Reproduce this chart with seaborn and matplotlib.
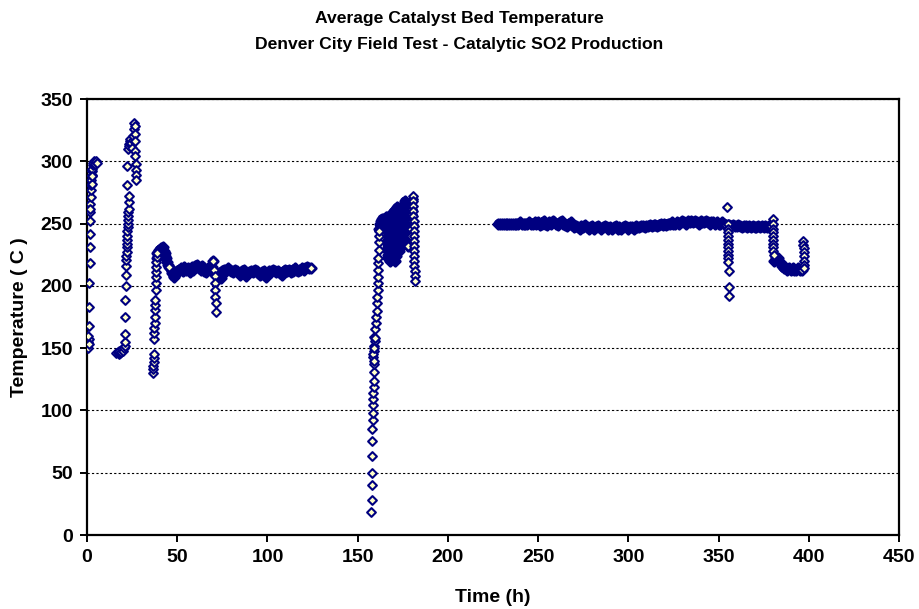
import numpy as np
import pandas as pd
import matplotlib
matplotlib.use("Agg")
import matplotlib.pyplot as plt
import seaborn as sns

# ---- Logged catalyst bed temperatures (time in h, temperature in C) ----
# start-up ramp
startup_t = [0.2, 0.5, 0.8, 1.0, 1.2, 0.6, 1.0, 1.2, 1.3, 1.4, 1.5, 1.6, 1.7, 1.8, 1.9,
             2.0, 2.1, 2.2, 2.4, 2.6, 2.8, 3.0, 3.2, 3.5, 4.0, 4.5, 5.0, 5.5, 2.5, 3.0, 1.8]
startup_T = [152, 150, 155, 157, 153, 160, 168, 183, 202, 218, 231, 242, 252, 259, 266,
             271, 277, 281, 285, 289, 292, 294, 297, 299, 300, 298, 300, 299, 282, 288, 262]

# idle period and second heat-up
idle_t = [16.0, 17.0, 17.5, 18.0, 18.5, 19.0, 19.5, 20.0, 20.5, 21.0]
idle_T = [146, 147, 145, 148, 146, 147, 149, 148, 150, 152]

heat2_t = [21.0, 21.1, 21.2, 21.3, 21.4, 21.5, 21.6, 21.7, 21.8, 21.9, 22.0, 22.1,
           22.2, 22.3, 22.4, 22.5, 22.6, 22.7, 22.8, 22.9, 23.0, 23.1, 23.2]
heat2_T = [155, 161, 175, 189, 200, 209, 216, 221, 224, 227, 231, 234,
           237, 240, 244, 247, 250, 253, 256, 259, 262, 267, 272]

peak_t = [22.0, 22.3, 22.6, 23.0, 23.3, 23.6, 24.0, 24.3, 24.6, 25.0, 25.3, 25.6,
          26.0, 26.2, 26.4, 26.5, 26.6, 26.7, 26.8, 26.9, 27.0, 27.1, 27.2]
peak_T = [281, 296, 310, 314, 312, 316, 318, 313, 315, 311, 317, 320,
          326, 331, 328, 322, 316, 308, 304, 298, 293, 289, 285]

# third heat-up
heat3_t = [36.6, 36.7, 36.8, 36.9, 37.0, 37.1, 37.2, 37.3, 37.4, 37.5, 37.6,
           37.7, 37.8, 37.9, 38.0, 38.1, 38.2, 38.3, 38.4, 38.5, 38.6, 38.7]
heat3_T = [130, 133, 136, 139, 142, 145, 157, 162, 166, 170, 175,
           181, 185, 189, 197, 202, 207, 211, 215, 219, 223, 226]

settle_t = [38.8, 39.0, 39.5, 40.0, 40.5, 41.0, 41.5, 42.0, 42.5, 43.0, 43.5, 44.0, 44.5, 45.0, 45.5]
settle_T = [226, 222, 227, 229, 228, 230, 229, 231, 228, 226, 224, 222, 219, 217, 215]

# first steady run (hourly readings)
run1a_start = 46
run1a_T = [214, 210, 207, 209, 212, 213, 214, 212, 215, 213, 214, 211, 215, 213, 216,
           217, 214, 213, 216, 212, 211, 214, 213, 215, 220]
upset1_t = [70.6, 70.8, 71.0, 71.1, 71.2, 71.3, 71.4]
upset1_T = [213, 208, 202, 197, 191, 186, 179]
run1b_start = 72
run1b_T = [209, 210, 206, 212, 213, 212, 214, 213, 212, 211,
           213, 212, 210, 209, 212, 213, 208, 210, 211, 212,
           211, 213, 212, 210, 209, 211, 212, 207, 210, 212,
           211, 213, 212, 211, 212, 210, 209, 212, 213, 212,
           213, 211, 212, 214, 213, 212, 213, 214, 213, 214,
           215, 214, 214]

# restart from cold
cold_t = [157.6, 157.8, 157.9, 158.0, 158.0, 158.1, 158.2, 158.3, 158.4, 158.5, 158.6,
          158.7, 158.8, 158.9, 159.0, 159.0, 158.6, 158.8, 159.2, 159.4, 159.2, 158.5,
          159.0, 159.5, 158.8, 159.6, 160.0, 160.3, 160.5, 160.7, 160.8, 161.0, 161.1,
          161.2, 161.3, 161.4, 161.5, 161.6, 161.7, 161.8, 162.0]
cold_T = [18.7, 28, 40, 49.5, 63.5, 75.7, 84.8, 92, 98, 104, 109,
          114, 119, 124, 131, 137, 143, 148, 152, 156, 159, 145,
          150, 158, 140, 165, 170, 175, 180, 186, 191, 197, 202,
          207, 213, 218, 222, 229, 235, 240, 244]

# unstable period after restart
swing_t = [162.0, 162.5, 163.0, 163.5, 164.0, 164.5, 165.0, 165.5, 166.0,
           166.5, 166.55, 166.6, 166.65, 166.7, 166.75, 166.8, 166.85, 166.9, 166.95, 167.0, 167.05,
           168.0, 168.1, 168.2, 168.3, 168.4, 168.5, 168.6, 168.7, 168.8, 168.9, 169.0,
           170.0, 170.05, 170.1, 170.15, 170.2, 170.25, 170.3, 170.35, 170.4, 170.45, 170.5,
           171.0, 171.1, 171.2, 171.3, 171.4, 171.5, 171.6, 171.7,
           172.5, 172.6, 172.7, 172.8, 172.9, 173.0, 173.1,
           174.0, 174.3, 174.6, 174.9, 175.2, 175.5, 175.8, 176.0,
           177.0, 177.2, 177.4, 177.6, 177.8, 178.0]
swing_T = [246, 250, 252, 254, 251, 249, 253, 255, 252,
           255, 252, 249, 246, 243, 240, 237, 234, 231, 228, 225, 222,
           220, 224, 228, 232, 236, 240, 244, 248, 252, 256, 258,
           260, 256, 252, 248, 244, 240, 236, 232, 228, 224, 220,
           224, 230, 236, 242, 248, 254, 260, 263,
           258, 252, 246, 240, 235, 230, 228,
           232, 238, 244, 250, 256, 262, 266, 268,
           262, 255, 248, 240, 235, 232]
swing_end_t = [179.5, 179.7, 179.9, 180.0, 180.1, 180.2, 180.4, 180.5,
               180.6, 180.7, 180.8, 180.9, 181.0, 181.05, 181.1, 181.15, 181.2,
               181.25, 181.3, 181.35, 181.4, 181.45, 181.5, 181.55, 181.6]
swing_end_T = [240, 246, 252, 258, 262, 267, 270, 272,
               268, 264, 260, 256, 252, 248, 244, 240, 236,
               232, 228, 224, 220, 216, 212, 208, 204]

# second steady run (hourly readings)
run2_start = 228
run2_T = [250, 250, 250, 250, 250, 250, 250, 250, 250, 250, 250, 250, 251, 250, 250, 250, 250, 251, 250, 250,
          251, 250, 251, 249, 250, 252, 250, 249, 251, 250, 252, 251, 250, 249, 251, 252, 250, 249, 248, 250,
          251, 249, 247, 248, 247, 246, 248, 247, 249, 247, 246, 247, 248, 246, 247, 248, 247, 246, 247, 248,
          247, 246, 247, 246, 247, 248, 246, 247, 246, 247, 248, 247, 246, 247, 247, 246, 248, 247, 247, 248,
          248, 247, 248, 248, 249, 248, 249, 249, 248, 249, 250, 249, 250, 249, 250, 250, 251, 250, 250, 251,
          250, 251, 252, 251, 250, 252, 251, 252, 251, 252, 251, 250, 252, 251, 251, 252, 251, 250, 251, 251,
          250, 251, 250, 250, 251, 250, 249]
upset2_t = [354.6, 355.0, 355.05, 355.1, 355.15, 355.2, 355.25, 355.3, 355.35, 355.4, 355.45,
            355.5, 355.55, 355.6, 355.65]
upset2_T = [263, 250, 246, 243, 240, 237, 234, 231, 228, 225, 222, 219, 212, 199, 192]
run3_start = 356
run3_T = [249, 248, 249, 248, 248, 249, 248, 247, 248, 248, 247, 248,
          247, 248, 247, 247, 248, 247, 248, 247, 248, 247, 248, 248]
step_t = [380.0, 380.05, 380.1, 380.15, 380.2, 380.25, 380.3, 380.35, 380.4, 380.45]
step_T = [254, 250, 246, 243, 240, 237, 234, 231, 228, 225]
run4_start = 381
run4_T = [220, 223, 222, 219, 216, 214, 215, 213, 214, 213, 214, 213, 213, 214, 213, 213]
final_t = [397.0, 397.05, 397.1, 397.15, 397.2, 397.25, 397.3, 397.35]
final_T = [236, 233, 230, 227, 224, 220, 217, 214]


def hourly(start, temps):
    return list(start + np.arange(len(temps))), temps


def frame(pieces):
    parts = []
    for k, (t, v) in enumerate(pieces):
        parts.append(pd.DataFrame({"Time": np.asarray(t, float),
                                   "Temp": np.asarray(v, float), "run": k}))
    return pd.concat(parts, ignore_index=True)


# continuous logging stretches: readings are so close they merge into a band
dense = frame([
    (settle_t, settle_T), hourly(run1a_start, run1a_T), hourly(run1b_start, run1b_T),
    (swing_t, swing_T), hourly(run2_start, run2_T), hourly(run3_start, run3_T),
    hourly(run4_start, run4_T),
])
# transients with individually visible readings
sparse = frame([
    (startup_t, startup_T), (idle_t, idle_T), (heat2_t, heat2_T), (peak_t, peak_T),
    (heat3_t, heat3_T), (upset1_t, upset1_T), (cold_t, cold_T),
    (swing_end_t, swing_end_T), (upset2_t, upset2_T), (step_t, step_T),
    (final_t, final_T),
])
# last reading of each continuous stretch
run_ends = dense.groupby("run").tail(1)

# ---- figure ----
sns.set_style("white")
plt.rcParams["font.family"] = ["Liberation Sans", "DejaVu Sans"]
plt.rcParams["font.weight"] = "bold"
plt.rcParams["text.color"] = "black"
plt.rcParams["axes.labelcolor"] = "black"
plt.rcParams["xtick.color"] = "black"
plt.rcParams["ytick.color"] = "black"

W, H = 919, 609
fig = plt.figure(figsize=(W / 100, H / 100), dpi=100)
ax = fig.add_axes([87 / W, 1 - 535 / H, (899 - 87) / W, (535 - 99) / H])

navy, cream = "#000080", "#FFFFC8"
mk = dict(marker="D", s=20, color=cream, edgecolor=navy, linewidth=1.5)

# overlapping diamonds of the dense stretches, merged into a solid trace
sns.scatterplot(data=dense, x="Time", y="Temp", ax=ax, marker="D", s=20,
                color=navy, edgecolor=navy, linewidth=2.5, zorder=3)
for _, seg in dense.groupby("run"):
    ax.plot(seg["Time"], seg["Temp"], color=navy, linewidth=6.5, zorder=4,
            solid_capstyle="round", solid_joinstyle="round")
sns.scatterplot(data=run_ends, x="Time", y="Temp", ax=ax, zorder=5, **mk)
sns.scatterplot(data=sparse, x="Time", y="Temp", ax=ax, zorder=6, **mk)

ax.set_xlim(0, 450)
ax.set_ylim(0, 350)
ax.set_xticks(np.arange(0, 451, 50))
ax.set_yticks(np.arange(0, 351, 50))
ax.yaxis.grid(True, color="black", linestyle=(0, (2, 2)), linewidth=0.8)
ax.xaxis.grid(False)
ax.set_axisbelow(True)
for sp in ax.spines.values():
    sp.set_visible(True)
    sp.set_color("black")
    sp.set_linewidth(1.6)
ax.tick_params(axis="both", direction="out", length=5, width=1.4, color="black",
               labelsize=14, pad=5, bottom=True, left=True)
for lab in ax.get_xticklabels() + ax.get_yticklabels():
    lab.set_fontweight("bold")

ax.set_xlabel("Time (h)", fontsize=14, fontweight="bold", labelpad=17)
ax.set_ylabel("Temperature ( C )", fontsize=14, fontweight="bold", labelpad=9)

fig.text(0.5, 1 - 18 / H, "Average Catalyst Bed Temperature", ha="center", va="center",
         fontsize=12.6, fontweight="bold")
fig.text(0.5, 1 - 44 / H, "Denver City Field Test - Catalytic SO2 Production", ha="center",
         va="center", fontsize=12.6, fontweight="bold")

fig.savefig("out.png", dpi=100)
